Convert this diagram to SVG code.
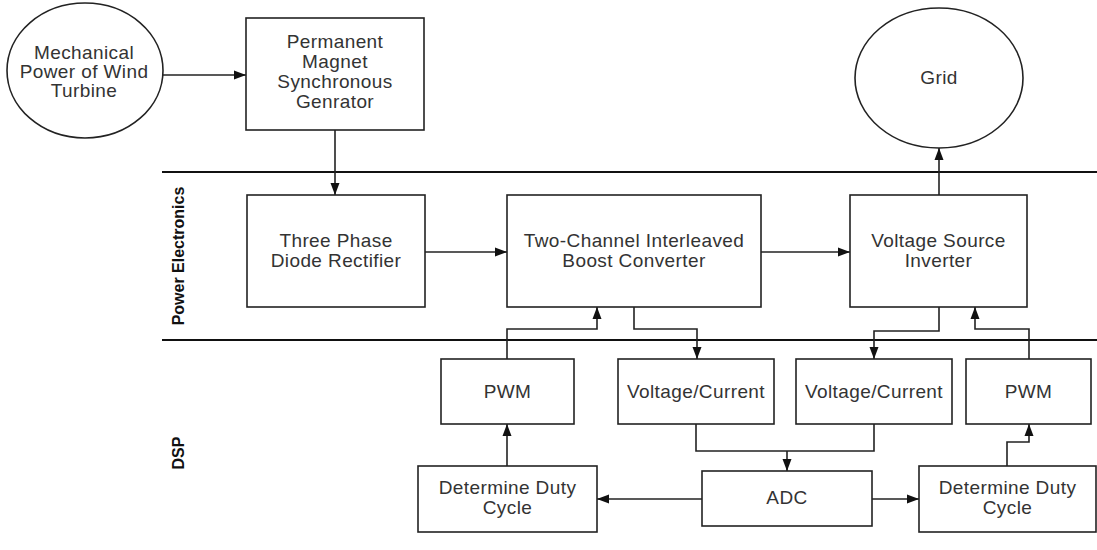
<svg xmlns="http://www.w3.org/2000/svg" width="1097" height="550" viewBox="0 0 1097 550">
<style>
.box{fill:#fff;stroke:#222;stroke-width:1.6}
.t{font-family:"Liberation Sans",Arial,sans-serif;font-size:19px;letter-spacing:0.4px;fill:#333;text-anchor:middle}
.lbl{font-family:"Liberation Sans",Arial,sans-serif;font-size:16px;font-weight:bold;fill:#111;text-anchor:middle}
.sep{stroke:#111;stroke-width:2;fill:none}
.c{stroke:#222;stroke-width:1.6;fill:none;marker-end:url(#ah)}
</style>
<defs>
<marker id="ah" markerWidth="12" markerHeight="12" viewBox="0 0 12 12" refX="12" refY="6" orient="auto" markerUnits="userSpaceOnUse">
<path d="M0,1.5 L12,6 L0,10.5 Z" fill="#111"/>
</marker>
</defs>
<rect width="1097" height="550" fill="#fff"/>
<g id="lanes">
<line class="sep" x1="162" y1="172" x2="1097" y2="172"/>
<line class="sep" x1="162" y1="340" x2="1097" y2="340"/>
<text class="lbl" transform="translate(184,256) rotate(-90)">Power Electronics</text>
<text class="lbl" transform="translate(184,453) rotate(-90)">DSP</text>
</g>
<g id="connectors">
<path class="c" d="M163,75 H246"/>
<path class="c" d="M335,130 V195"/>
<path class="c" d="M425,252 H507"/>
<path class="c" d="M761,252 H850"/>
<path class="c" d="M939,195 V148"/>
<path class="c" d="M507,359 V329 H597 V307"/>
<path class="c" d="M634,307 V329 H697 V359"/>
<path class="c" d="M939,307 V331 H874 V359"/>
<path class="c" d="M1029,359 V329 H975 V307"/>
<path class="c" d="M507,466 V424"/>
<path class="c" d="M1007,466 V442 H1029 V424"/>
<path class="c" d="M702,499 H597"/>
<path class="c" d="M872,499 H919"/>
<path stroke="#222" stroke-width="1.6" fill="none" d="M696,424 V451 H874 V424"/>
<path class="c" d="M787,451 V471"/>
</g>
<g id="mech">
<ellipse class="box" cx="85" cy="70.5" rx="78" ry="67.5"/>
<text class="t" x="84" y="59">Mechanical</text>
<text class="t" x="84" y="78">Power of Wind</text>
<text class="t" x="84" y="97">Turbine</text>
</g>
<g id="pmsg">
<rect class="box" x="246" y="18" width="178" height="112"/>
<text class="t" x="335" y="48">Permanent</text>
<text class="t" x="335" y="68">Magnet</text>
<text class="t" x="335" y="88">Synchronous</text>
<text class="t" x="335" y="108">Genrator</text>
</g>
<g id="grid">
<ellipse class="box" cx="939" cy="78" rx="84" ry="70"/>
<text class="t" x="939" y="84">Grid</text>
</g>
<g id="rectifier">
<rect class="box" x="247" y="195" width="178" height="112"/>
<text class="t" x="336" y="247">Three Phase</text>
<text class="t" x="336" y="267">Diode Rectifier</text>
</g>
<g id="boost">
<rect class="box" x="507" y="195" width="254" height="112"/>
<text class="t" x="634" y="247">Two-Channel Interleaved</text>
<text class="t" x="634" y="267">Boost Converter</text>
</g>
<g id="vsi">
<rect class="box" x="850" y="195" width="177" height="112"/>
<text class="t" x="938.5" y="247">Voltage Source</text>
<text class="t" x="938.5" y="267">Inverter</text>
</g>
<g id="pwm1">
<rect class="box" x="441" y="359" width="133" height="65"/>
<text class="t" x="507.5" y="398">PWM</text>
</g>
<g id="vc1">
<rect class="box" x="618" y="359" width="156" height="65"/>
<text class="t" x="696" y="398">Voltage/Current</text>
</g>
<g id="vc2">
<rect class="box" x="796" y="359" width="156" height="65"/>
<text class="t" x="874" y="398">Voltage/Current</text>
</g>
<g id="pwm2">
<rect class="box" x="966" y="359" width="125" height="65"/>
<text class="t" x="1028.5" y="398">PWM</text>
</g>
<g id="ddc1">
<rect class="box" x="418" y="466" width="179" height="66"/>
<text class="t" x="507.5" y="494">Determine Duty</text>
<text class="t" x="507.5" y="514">Cycle</text>
</g>
<g id="adc">
<rect class="box" x="702" y="471" width="170" height="55"/>
<text class="t" x="787" y="504">ADC</text>
</g>
<g id="ddc2">
<rect class="box" x="919" y="466" width="177" height="66"/>
<text class="t" x="1007.5" y="494">Determine Duty</text>
<text class="t" x="1007.5" y="514">Cycle</text>
</g>
</svg>
